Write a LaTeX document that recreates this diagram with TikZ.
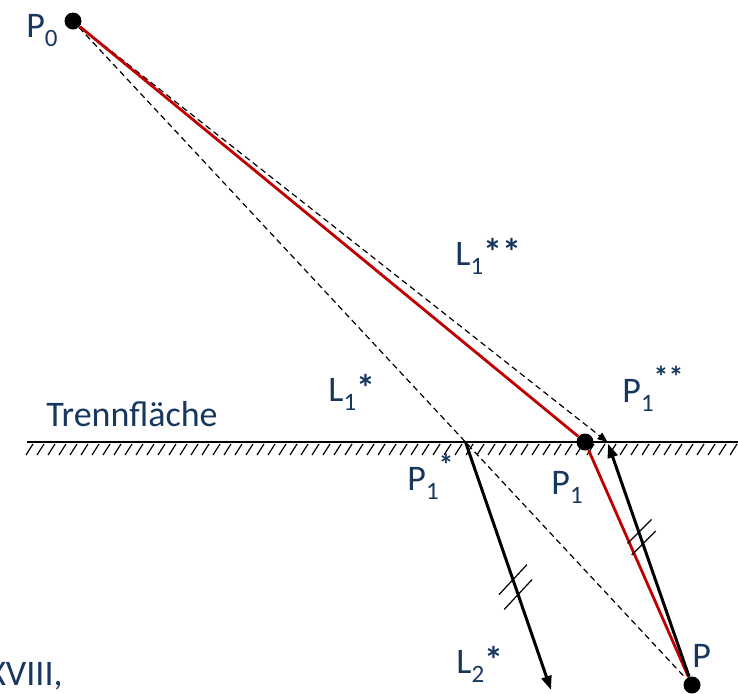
\documentclass[tikz,border=0pt]{standalone}
\usepackage{fontspec}
\setmainfont{Carlito}
\usetikzlibrary{arrows.meta, calc}
\definecolor{dunkelblau}{HTML}{17375E}
\definecolor{rotLinie}{HTML}{C00000}
\newcommand\unten[1]{\raisebox{-0.25em}{\fontsize{12.5}{12.5}\selectfont #1}}
\newcommand\oben[1]{\raisebox{0.4em}{\fontsize{15}{15}\selectfont\bfseries #1}}
\newcommand\stern[1]{{\fontsize{19}{19}\selectfont\bfseries #1}}
\tikzset{
  punkt/.style={circle, fill=black, minimum size=8.5pt, inner sep=0pt},
  flaeche/.style={line width=1.4pt, black},
  schraffur/.style={line width=0.6pt, black},
  strahlRot/.style={line width=1.4pt, rotLinie},
  strahlGestrichelt/.style={line width=0.6pt, black, dash pattern=on 3pt off 2pt},
  pfeilGestrichelt/.style={strahlGestrichelt, -{Triangle[length=5pt, width=4pt]}},
  pfeil/.style={line width=1.5pt, black, -{Triangle[length=7pt, width=5pt]}},
  strich/.style={line width=0.6pt, black},
  beschriftung/.style={font=\fontsize{18}{21}\selectfont, text=dunkelblau,
    inner sep=0pt, anchor=base west},
}
\begin{document}
\begin{tikzpicture}[x=0.5pt, y=-0.5pt]
  \useasboundingbox (0,0) rectangle (738,693);
  % Punkte
  \coordinate (flL) at (27,442);
  \coordinate (flR) at (738,442);
  \coordinate (P1s) at (465.5,442);
  \coordinate (P1ss) at (607.5,442);
  \coordinate (L2end) at (551,690);

  % Trennflaeche mit Schraffur
  \foreach \x in {33,44,...,737}
    \draw[schraffur] (\x,444) -- ++(-7,11);
  \draw[flaeche] (flL) -- (flR);

  \node[punkt] (P0) at (73,21) {};
  \node[punkt] (P1) at (585,442) {};
  \node[punkt] (P) at (692,685) {};

  % Hilfslinien
  \draw[strahlGestrichelt] (P0) -- (P);
  \draw[pfeilGestrichelt] (P0) -- (P1ss);

  % Strahlengang
  \draw[strahlRot] (P0) -- (P1) -- (P);
  \draw[pfeil] (P1s) -- (L2end);
  \draw[pfeil, shorten >=-1pt] (P) -- ($(P)!0.985!(P1ss)$);

  % Parallelitaet
  \draw[strich] ($(P1s)!0.555!(L2end)+(-14,15)$) -- ++(28,-30);
  \draw[strich] ($(P1s)!0.615!(L2end)+(-14,15)$) -- ++(28,-30);
  \draw[strich] ($(P)!0.632!(P1ss)+(-11,12)$) -- ++(24,-24);
  \draw[strich] ($(P)!0.584!(P1ss)+(-11,12)$) -- ++(24,-24);

  % Beschriftungen
  \node[beschriftung] (labP0) at (26,37) {P\unten{0}};
  \node[beschriftung] (labL1ss) at (455,265) {L\unten{1}\stern{**}};
  \node[beschriftung] (labL1s) at (328,401) {L\unten{1}\stern{*}};
  \node[beschriftung] (labFl) at (46,426) {Trennfläche};
  \node[beschriftung] (labP1ss) at (622,402) {P\unten{1}\oben{**}};
  \node[beschriftung] (labP1s) at (407,490) {P\unten{1}\oben{*}};
  \node[beschriftung] (labP1) at (551,494) {P\unten{1}};
  \node[beschriftung] (labL2s) at (456,673) {L\unten{2}\stern{*}};
  \node[beschriftung] (labP) at (692,667) {P};
  \node[beschriftung, anchor=base east] (labQuelle) at (63,685) {XVIII,};
\end{tikzpicture}
\end{document}
